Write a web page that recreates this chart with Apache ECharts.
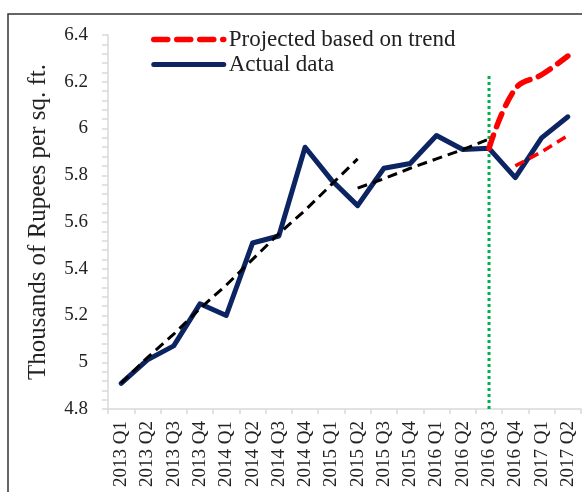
<!DOCTYPE html>
<html>
<head>
<meta charset="utf-8">
<script src="https://cdn.jsdelivr.net/npm/echarts@6/dist/echarts.min.js"></script>
<style>
  html, body { margin: 0; padding: 0; background: #fff; }
  #chart { width: 582px; height: 492px; }
</style>
</head>
<body>
<div id="chart"></div>
<script>
const quarters = [
  "2013 Q1", "2013 Q2", "2013 Q3", "2013 Q4",
  "2014 Q1", "2014 Q2", "2014 Q3", "2014 Q4",
  "2015 Q1", "2015 Q2", "2015 Q3", "2015 Q4",
  "2016 Q1", "2016 Q2", "2016 Q3", "2016 Q4",
  "2017 Q1", "2017 Q2",
];
const actual = [4.91, 5.01, 5.07, 5.25, 5.20, 5.51, 5.54, 5.92, 5.78, 5.67,
  5.83, 5.85, 5.97, 5.91, 5.915, 5.79, 5.96, 6.05];
const projected = [null, null, null, null, null, null, null, null, null, null,
  null, null, null, null, 5.915, 6.17, 6.23, 6.31];
const projectedLow = [null, null, null, null, null, null, null, null, null, null,
  null, null, null, null, null, 5.84, 5.90, 5.97];
const trendEarly = [4.91, 5.02, 5.12, 5.23, 5.33, 5.44, 5.55, 5.65, 5.76, 5.87];
const trendLate = [null, null, null, null, null, null, null, null, null, 5.745,
  5.785, 5.83, 5.87, 5.91, 5.955];
const cutoff = [["2016 Q3", 4.8], ["2016 Q3", 6.23]];

const serif = "Liberation Serif";
const axisGrey = "#d9d9d9";
const chart = echarts.init(document.getElementById("chart"));
const option = {
  animation: false,
  textStyle: { fontFamily: serif },
  grid: { left: 108, right: 1, top: 35, bottom: 83 },
  graphic: [
    {
      type: "rect",
      shape: { x: 8, y: 14, width: 620, height: 520 },
      style: { fill: "none", stroke: "#333", lineWidth: 1.5 },
      silent: true,
    },
  ],
  legend: {
    orient: "vertical",
    left: 151,
    top: 28,
    padding: 0,
    itemWidth: 70,
    itemHeight: 14,
    itemGap: 2,
    itemStyle: { opacity: 0 },
    lineStyle: { width: "inherit", type: "inherit", cap: "round" },
    data: ["Projected based on trend", "Actual data"],
    textStyle: { fontFamily: serif, fontSize: 23, lineHeight: 23, color: "#222" },
  },
  xAxis: {
    type: "category",
    data: quarters,
    boundaryGap: true,
    axisLine: { lineStyle: { color: axisGrey, width: 1.5 } },
    axisTick: { show: true, length: 5, lineStyle: { color: axisGrey, width: 1.5 } },
    axisLabel: {
      rotate: 90,
      fontSize: 19,
      color: "#222",
      margin: 12,
      fontFamily: serif,
      interval: 0,
    },
    splitLine: { show: false },
  },
  yAxis: {
    type: "value",
    min: 4.8,
    max: 6.4,
    interval: 0.2,
    name: "Thousands of Rupees per sq. ft.",
    nameLocation: "middle",
    nameGap: 57,
    nameTextStyle: { fontFamily: serif, fontSize: 25, color: "#222" },
    axisLine: { show: true, lineStyle: { color: axisGrey, width: 1.5 } },
    axisTick: { show: true, length: 6, lineStyle: { color: axisGrey, width: 1.5 } },
    minorTick: { show: true, splitNumber: 5, length: 6, lineStyle: { color: axisGrey, width: 1.5 } },
    axisLabel: {
      fontSize: 19,
      color: "#222",
      margin: 20,
      fontFamily: serif,
      formatter: (v) => String(Math.round(v * 10) / 10),
    },
    splitLine: { show: false },
  },
  series: [
    {
      name: "cutoff",
      type: "line",
      data: cutoff,
      symbol: "none",
      lineStyle: { color: "#00b050", width: 3, type: [3, 3] },
      z: 1,
    },
    {
      name: "trendEarly",
      type: "line",
      data: trendEarly,
      symbol: "none",
      lineStyle: { color: "#000", width: 3, type: [10, 6] },
      z: 3,
    },
    {
      name: "trendLate",
      type: "line",
      data: trendLate,
      symbol: "none",
      lineStyle: { color: "#000", width: 3, type: [10, 6] },
      z: 3,
    },
    {
      name: "Actual data",
      type: "line",
      data: actual,
      symbol: "none",
      lineStyle: { color: "#0c2461", width: 5, join: "round", cap: "round" },
      itemStyle: { color: "#0c2461" },
      z: 2,
    },
    {
      name: "projectedLow",
      type: "line",
      data: projectedLow,
      symbol: "none",
      lineStyle: { color: "#ff0000", width: 3.5, type: [10, 6] },
      z: 4,
    },
    {
      name: "Projected based on trend",
      type: "line",
      data: projected,
      symbol: "none",
      smooth: 0.4,
      lineStyle: { color: "#ff0000", width: 5.5, type: [14, 9], cap: "round" },
      itemStyle: { color: "#ff0000" },
      z: 4,
    },
  ],
};
chart.setOption(option);
window.addEventListener("resize", function () {
  chart.resize();
});
</script>
</body>
</html>
